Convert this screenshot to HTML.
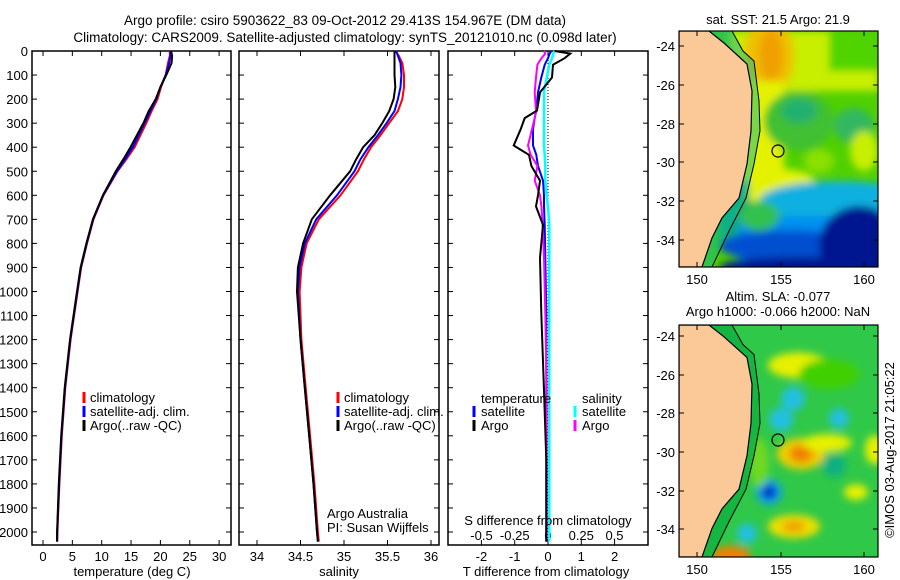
<!DOCTYPE html>
<html><head><meta charset="utf-8"><style>
html,body{margin:0;padding:0;background:#fff;}
svg{display:block;font-family:"Liberation Sans",sans-serif;font-size:13px;}
</style></head><body>
<svg id="fig" width="900" height="580" viewBox="0 0 900 580" xmlns="http://www.w3.org/2000/svg">
<defs>
<filter id="bl" x="-50%" y="-50%" width="200%" height="200%"><feGaussianBlur stdDeviation="4"/></filter>
<clipPath id="clipTop"><rect x="0" y="0" width="199" height="236"/></clipPath>
<clipPath id="clipBot"><rect x="0" y="0" width="199" height="232"/></clipPath>
</defs>
<text x="345" y="25" text-anchor="middle" font-size="13.5">Argo profile: csiro 5903622_83 09-Oct-2012 29.413S 154.967E (DM data)</text>
<text x="345" y="42" text-anchor="middle" font-size="13.5">Climatology: CARS2009. Satellite-adjusted climatology: synTS_20121010.nc (0.098d later)</text>
<g id="charts"></g>
<g id="maps"></g>
</svg>
<script>
// ---------- profile data ----------
const depths = [0,10,20,50,100,150,200,250,300,350,400,450,500,600,700,800,900,1000,1200,1400,1600,1800,2000,2040];
const tempArgo = [21.8,21.9,22.0,21.9,21.0,20.0,19.2,18.0,17.1,16.0,14.9,13.7,12.4,10.2,8.5,7.4,6.4,5.8,4.6,3.7,3.1,2.7,2.4,2.4];
const tempClim = [21.6,21.6,21.6,21.3,20.9,20.1,19.5,18.5,17.6,16.6,15.6,14.2,12.7,10.3,8.6,7.5,6.5,5.9,4.7,3.8,3.2,2.8,2.45,2.4];
const tempSat = [21.7,21.7,21.7,21.5,20.9,20.0,19.3,18.3,17.3,16.3,15.3,14.0,12.6,10.25,8.55,7.45,6.45,5.85,4.65,3.75,3.15,2.75,2.42,2.4];
const salArgo = [35.58,35.58,35.58,35.58,35.58,35.59,35.57,35.52,35.44,35.35,35.22,35.14,35.07,34.84,34.63,34.53,34.47,34.46,34.50,34.55,34.60,34.65,34.69,34.70];
const salClim = [35.60,35.61,35.63,35.67,35.69,35.69,35.67,35.62,35.52,35.42,35.31,35.23,35.16,34.96,34.71,34.57,34.51,34.49,34.51,34.56,34.61,34.66,34.70,34.71];
const salSat = [35.60,35.61,35.62,35.65,35.66,35.65,35.62,35.58,35.49,35.39,35.28,35.19,35.12,34.92,34.68,34.55,34.49,34.47,34.50,34.55,34.60,34.65,34.69,34.70];
const diffDepths = [0,11,30,57,110,172,248,279,325,393,432,478,539,600,646,723,860,1090,1411,1700,2040];
const tDiffArgo = [0.2,0.67,0.5,0.15,0.12,-0.24,-0.33,-0.7,-0.82,-1.03,-0.57,-0.5,-0.24,-0.3,-0.36,-0.15,-0.24,-0.2,-0.12,-0.05,-0.05];
const tDiffSat = [0.1,0.05,0.0,-0.1,-0.2,-0.3,-0.35,-0.4,-0.45,-0.45,-0.35,-0.3,-0.15,-0.12,-0.12,-0.1,-0.08,-0.05,-0.05,-0.05,-0.05];
const sDiffArgo = [-0.03,-0.02,-0.05,-0.08,-0.09,-0.1,-0.09,-0.1,-0.12,-0.15,-0.13,-0.08,-0.1,-0.06,-0.05,-0.04,-0.03,-0.02,-0.01,-0.01,-0.01];
const sDiffSat = [0.05,0.04,0.03,0.01,-0.01,-0.03,-0.03,-0.03,-0.03,-0.03,-0.025,-0.02,-0.02,-0.01,0,0.01,0.01,0.01,0.01,0.01,0.01];
const depthTicks = [0,100,200,300,400,500,600,700,800,900,1000,1100,1200,1300,1400,1500,1600,1700,1800,1900,2000];
const tempTicks = [0,5,10,15,20,25,30];
const salTicks = [34,34.5,35,35.5,36];
const tDiffTicks = [-2,-1,0,1,2];
const sDiffTicks = [-0.5,-0.25,0,0.25,0.5];
const sDiffTickLabels = ["-0.5","-0.25","0","0.25","0.5"];

const NS="http://www.w3.org/2000/svg";
const charts=document.getElementById('charts');
function mk(tag,attrs,parent){const e=document.createElementNS(NS,tag);for(const k in attrs)e.setAttribute(k,attrs[k]);(parent||charts).appendChild(e);return e;}
const yD = d => 51 + d*0.2405;
const PTOP=51, PBOT=545;
const xT = v => 43 + v*5.87;
const xS = v => 257 + (v-34)*87;
const xTD = v => 548 + v*33.3;
const xSD = v => 548 + v*133;

function frame(x0,x1,name){
  const r=mk('rect',{x:x0,y:PTOP,width:x1-x0,height:PBOT-PTOP,fill:'none',stroke:'#000','stroke-width':1.5});
  
  
  depthTicks.forEach(d=>{
    mk('line',{x1:x0,x2:x0+5,y1:yD(d),y2:yD(d),stroke:'#000'});
    mk('line',{x1:x1-5,x2:x1,y1:yD(d),y2:yD(d),stroke:'#000'});
  });
}
function xticks(vals,fx,labels,ly,name){
  vals.forEach((v,i)=>{
    const x=fx(v);
    mk('line',{x1:x,x2:x,y1:PBOT,y2:PBOT-5,stroke:'#000'});
    mk('line',{x1:x,x2:x,y1:PTOP,y2:PTOP+5,stroke:'#000'});
    const t=mk('text',{x:x,y:ly,'text-anchor':'middle'});t.textContent=labels[i];
    
    
  });
}
function line(xs,ds,fx,color,name,w){
  const pts=xs.map((v,i)=>fx(v).toFixed(1)+','+yD(ds[i]).toFixed(1)).join(' ');
  const p=mk('polyline',{points:pts,fill:'none',stroke:color,'stroke-width':w||2});
  
  
}
function txt(x,y,s,name,anchor){const t=mk('text',{x:x,y:y,'text-anchor':anchor||'start'});t.textContent=s;
  
  
  return t;}
function legMark(x,y,c){mk('line',{x1:x,x2:x,y1:y-11,y2:y,stroke:c,'stroke-width':3});}

// panel 1 temperature
frame(32,231,'temperature-panel');
depthTicks.forEach(d=>{const t=mk('text',{x:28,y:yD(d)+5,'text-anchor':'end'});t.textContent=d;
  
  });
xticks(tempTicks,xT,tempTicks.map(String),561,'temperature-tick-label');
line(tempClim,depths,xT,'#ff0000','temperature-climatology-line');
line(tempSat,depths,xT,'#0000ff','temperature-satellite-line');
line(tempArgo,depths,xT,'#000000','temperature-argo-line');
txt(132,576,'temperature (deg C)','temperature-axis-title','middle');
legMark(84,403,'#ff0000');txt(90,402,'climatology','legend-climatology');
legMark(84,417,'#0000ff');txt(90,416,'satellite-adj. clim.','legend-satellite');
legMark(84,431,'#000');txt(90,430,'Argo(..raw -QC)','legend-argo');

// panel 2 salinity
frame(239,439,'salinity-panel');
xticks(salTicks,xS,["34","34.5","35","35.5","36"],561,'salinity-tick-label');
line(salClim,depths,xS,'#ff0000','salinity-climatology-line');
line(salSat,depths,xS,'#0000ff','salinity-satellite-line');
line(salArgo,depths,xS,'#000000','salinity-argo-line');
txt(339,576,'salinity','salinity-axis-title','middle');
legMark(338,403,'#ff0000');txt(344,402,'climatology','legend-climatology');
legMark(338,417,'#0000ff');txt(344,416,'satellite-adj. clim.','legend-satellite');
legMark(338,431,'#000');txt(344,430,'Argo(..raw -QC)','legend-argo');
txt(327,518,'Argo Australia','credit-argo-australia');
txt(327,532,'PI: Susan Wijffels','credit-pi');

// panel 3 differences
frame(448,648,'difference-panel');
mk('line',{x1:548,x2:548,y1:PTOP,y2:PBOT,stroke:'#000','stroke-dasharray':'1,2'});
xticks(tDiffTicks,xTD,tDiffTicks.map(String),561,'t-difference-tick-label');
sDiffTicks.forEach((v,i)=>{const t=mk('text',{x:xSD(v),y:540,'text-anchor':'middle'});t.textContent=sDiffTickLabels[i];
  
  });
line(sDiffSat,diffDepths,xSD,'#00ffff','salinity-satellite-diff-line',2.5);
line(tDiffSat,diffDepths,xTD,'#0000ff','temperature-satellite-diff-line');
line(sDiffArgo,diffDepths,xSD,'#ff00ff','salinity-argo-diff-line');
line(tDiffArgo,diffDepths,xTD,'#000000','temperature-argo-diff-line');
txt(548,525,'S difference from climatology','s-difference-axis-title','middle');
txt(546,576,'T difference from climatology','t-difference-axis-title','middle');
txt(481,403,'temperature','legend-temperature-header');
legMark(474,417,'#0000ff');txt(481,416,'satellite','legend-t-satellite');
legMark(474,431,'#000');txt(481,430,'Argo','legend-t-argo');
txt(582,403,'salinity','legend-salinity-header');
legMark(575,417,'#00ffff');txt(582,416,'satellite','legend-s-satellite');
legMark(575,431,'#ff00ff');txt(582,430,'Argo','legend-s-argo');

// ---------- maps ----------
const maps=document.getElementById('maps');
const coast="0,0 30,0 45,12 56,22 68,33 73,60 72,100 68,133 60,167 43,187 33,207 23,236 0,236";
const shelf="53,0 64,20 75,30 80,70 81,100 75,133 67,167 50,200 33,236";
function mapBox(y0,h,name,blobs,baseColor,shelfColor,shelfOp,lats,circleY){
  const g=mk('g',{transform:`translate(679,${y0})`},maps);
  
  
  const sy=h/236;
  const inner=mk('g',{'clip-path':`url(#${h===236?'clipTop':'clipBot'})`},g);
  mk('rect',{x:0,y:0,width:199,height:h,fill:baseColor},inner);
  const bg=mk('g',{filter:'url(#bl)'},inner);
  blobs.forEach(b=>{
    if(b[0]==='r') mk('rect',{x:b[1],y:b[2]*sy,width:b[3],height:b[4]*sy,fill:b[5]},bg);
    else mk('ellipse',{cx:b[1],cy:b[2]*sy,rx:b[3],ry:b[4]*sy,fill:b[5]},bg);
  });
  const sc=`scale(1,${sy})`;
  mk('polygon',{points:"0,0 30,0 53,0 64,20 75,30 80,70 81,100 75,133 67,167 50,200 33,236 0,236",fill:shelfColor,'fill-opacity':shelfOp,transform:sc},inner);
  mk('polygon',{points:coast,fill:'#fbc998',stroke:'#000','stroke-width':1.2,transform:sc},inner);
  mk('polyline',{points:shelf,fill:'none',stroke:'#000','stroke-width':1,transform:sc},inner);
  mk('rect',{x:0,y:0,width:199,height:h,fill:'none',stroke:'#000','stroke-width':1.2},g);
  const c=mk('circle',{cx:99,cy:circleY,r:6,fill:'none',stroke:'#000','stroke-width':1.2},g);
  
  
  [[150,18],[155,102],[160,185]].forEach(l=>{
    mk('line',{x1:l[1],x2:l[1],y1:0,y2:5,stroke:'#000'},g);
    mk('line',{x1:l[1],x2:l[1],y1:h,y2:h-5,stroke:'#000'},g);
    const t=mk('text',{x:l[1],y:h+17,'text-anchor':'middle'},g);t.textContent=l[0];
    
    
  });
  lats.forEach(l=>{
    mk('line',{x1:0,x2:5,y1:l[1],y2:l[1],stroke:'#000'},g);
    mk('line',{x1:194,x2:199,y1:l[1],y2:l[1],stroke:'#000'},g);
    const t=mk('text',{x:-4,y:l[1]+5,'text-anchor':'end'},g);t.textContent=l[0];
    
    
  });
}
const sstBlobs=[
 ['r',50,0,150,60,'#c8ee00'],['r',150,0,50,40,'#50d400'],
 ['e',90,25,25,40,'#eec000'],['e',92,25,12,28,'#f0a000'],
 ['r',60,50,45,120,'#e4f200'],['e',100,150,35,12,'#e4f200'],
 ['e',120,90,35,30,'#40c030'],['e',175,95,20,18,'#30b860'],['e',120,80,18,12,'#20b070'],
 ['e',185,120,14,20,'#c8ee00'],['e',140,130,15,12,'#8be000'],
 ['r',40,150,30,60,'#10a880'],
 ['e',160,170,80,20,'#10b0e0'],['r',60,185,150,60,'#0090f0'],
 ['e',110,215,70,16,'#0050d0'],['e',180,215,40,40,'#001890'],['e',120,236,80,10,'#001890'],
 ['e',80,185,20,15,'#30c050']
];
const slaBlobs=[
 ['e',119,41,30,13,'#e8f000'],['e',114,75,12,12,'#20c0e0'],['e',102,96,12,12,'#20c0e0'],
 ['e',122,131,24,16,'#f0d000'],['e',122,131,12,9,'#f08000'],['e',148,120,25,9,'#e8f000'],
 ['e',90,170,13,13,'#10a0f0'],['e',90,170,7,7,'#0020c0'],
 ['e',115,205,26,12,'#f0e000'],['e',115,205,12,6,'#f0a000'],
 ['e',68,212,10,10,'#20c0e0'],['e',52,234,20,9,'#f08000'],
 ['e',160,95,10,10,'#20c0e0'],['e',155,143,12,12,'#10b080'],
 ['e',196,127,10,15,'#e8f000'],['e',177,170,12,8,'#e8f000'],
 ['e',150,50,30,15,'#40d000'],['e',80,140,10,25,'#70d820']
];
mapBox(31,236,'sst-map',sstBlobs,'#50d000','#10b890',0.5,[[-24,15],[-26,54],[-28,93],[-30,131],[-32,170],[-34,209]],120);
mapBox(325,232,'sla-map',slaBlobs,'#30c848','#10b040',0.8,[[-24,11],[-26,50],[-28,88],[-30,127],[-32,166],[-34,204]],115);
[['sat. SST: 21.5 Argo: 21.9',24,'sst-map-title'],['Altim. SLA: -0.077',301,'sla-map-title'],['Argo h1000: -0.066 h2000: NaN',316,'argo-height-title']].forEach(a=>{
  const t=mk('text',{x:778,y:a[1],'text-anchor':'middle'},maps);t.textContent=a[0];
  
  
});
const cr=mk('text',{x:0,y:0,'text-anchor':'middle',transform:'translate(894,450) rotate(-90)'},maps);
cr.textContent='©IMOS 03-Aug-2017 21:05:22';


</script>
</body></html>
